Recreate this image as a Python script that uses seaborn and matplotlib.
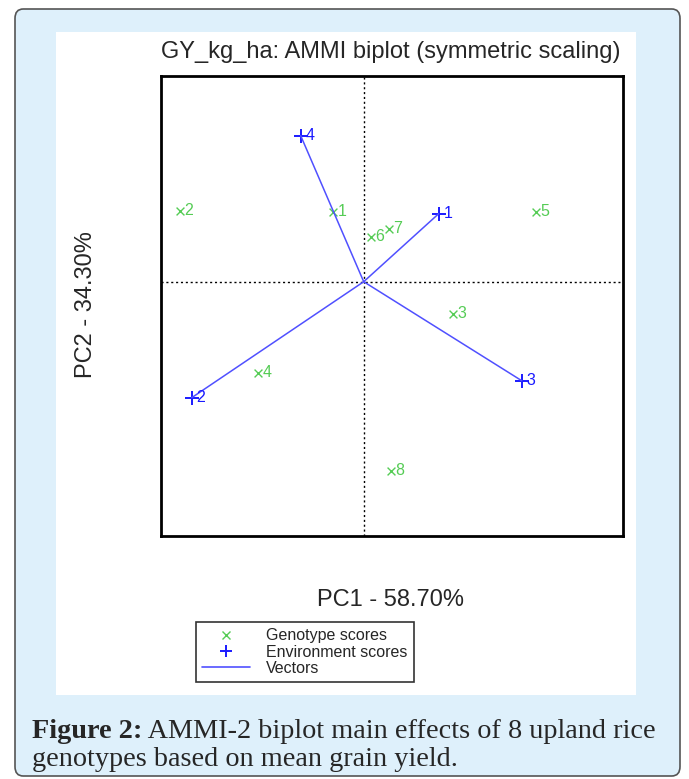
import matplotlib.pyplot as plt
import numpy as np
import pandas as pd
import seaborn as sns
from matplotlib.lines import Line2D
from matplotlib.patches import FancyBboxPatch, Rectangle

# AMMI scores
geno_labels = ["1", "2", "3", "4", "5", "6", "7", "8"]
geno_pc1 = [-3.1, -18.4, 8.9, -10.6, 17.2, 0.7, 2.5, 2.7]
geno_pc2 = [7.0, 7.1, -3.2, -9.1, 7.0, 4.5, 5.3, -18.9]

env_labels = ["1", "2", "3", "4"]
env_pc1 = [7.5, -17.2, 15.8, -6.3]
env_pc2 = [6.8, -11.6, -9.9, 14.6]

title = "GY_kg_ha: AMMI biplot (symmetric scaling)"
xlabel = "PC1 - 58.70%"
ylabel = "PC2 - 34.30%"
caption_bold = "Figure 2:"
caption_line1 = " AMMI-2 biplot main effects of 8 upland rice"
caption_line2 = "genotypes based on mean grain yield."

GREEN = "#55cc55"
BLUE = "#1a1aff"
VEC = "#5050ff"

sns.set_style("white")
plt.rcParams["font.family"] = ["Liberation Sans", "DejaVu Sans"]

geno_df = pd.DataFrame({"pc1": geno_pc1, "pc2": geno_pc2, "label": geno_labels})
env_df = pd.DataFrame({"pc1": env_pc1, "pc2": env_pc2, "label": env_labels})

fig = plt.figure(figsize=(6.89, 7.79), dpi=100)

# light blue frame and white panel, kept behind the axes
fig.patches.append(FancyBboxPatch((15 / 689, 1 - 776 / 779), 665 / 689, 767 / 779,
                                  boxstyle="round,pad=0,rounding_size=0.012",
                                  transform=fig.transFigure, facecolor="#def0fb",
                                  edgecolor="#555555", linewidth=1.2, zorder=-10))
fig.patches.append(Rectangle((56 / 689, 1 - 695 / 779), 580 / 689, 663 / 779,
                             transform=fig.transFigure, facecolor="white",
                             edgecolor="none", zorder=-9))

ax = fig.add_axes([161 / 689, 1 - 536 / 779, 461.7 / 689, 460 / 779])
ax.set_facecolor("white")

ax.axhline(0, color="black", linestyle=(0, (1.5, 2)), linewidth=1)
ax.axvline(0, color="black", linestyle=(0, (1.5, 2)), linewidth=1)

# environment vectors
for _, r in env_df.iterrows():
    ax.plot([0, r.pc1], [0, r.pc2], color=VEC, linewidth=1.1)

sns.scatterplot(data=geno_df, x="pc1", y="pc2", marker="x", color=GREEN, s=32,
                linewidth=1.0, ax=ax, legend=False)
sns.scatterplot(data=env_df, x="pc1", y="pc2", marker="+", color=BLUE, s=100,
                linewidth=1.4, ax=ax, legend=False)

for _, r in geno_df.iterrows():
    ax.annotate(r.label, (r.pc1, r.pc2), xytext=(3.5, 0.5), textcoords="offset points",
                color=GREEN, fontsize=11.5, va="center", ha="left")
for _, r in env_df.iterrows():
    ax.annotate(r.label, (r.pc1, r.pc2), xytext=(3.5, 0.5), textcoords="offset points",
                color=BLUE, fontsize=11.5, va="center", ha="left")

ax.set_xlim(-20.27, 25.9)
ax.set_ylim(-25.43, 20.57)
ax.set_xticks([])
ax.set_yticks([])
ax.set_xlabel("")
ax.set_ylabel("")
for sp in ax.spines.values():
    sp.set_visible(True)
    sp.set_color("black")
    sp.set_linewidth(2)

fig.text(391 / 689, 1 - 52 / 779, title, ha="center", va="center", fontsize=17)
fig.text(391 / 689, 1 - 600 / 779, xlabel, ha="center", va="center", fontsize=17)
fig.text(86 / 689, 1 - 305 / 779, ylabel, ha="center", va="center", fontsize=17,
         rotation=90)

handles = [
    Line2D([], [], color=GREEN, marker="x", linestyle="none", markersize=5.5, markeredgewidth=1.0),
    Line2D([], [], color=BLUE, marker="+", linestyle="none", markersize=9, markeredgewidth=1.4),
    Line2D([], [], color=VEC, linewidth=1.2),
]
leg = fig.legend(handles, ["Genotype scores", "Environment scores", "Vectors"],
                 loc="upper left", bbox_to_anchor=(196 / 689, 1 - 622 / 779),
                 fontsize=11.5, frameon=True, fancybox=False, edgecolor="black",
                 labelspacing=0.08, handlelength=3.0, handletextpad=1.0,
                 borderpad=0.4, borderaxespad=0)
leg.get_frame().set_linewidth(1.2)

# caption with bold lead-in
serif = ["Liberation Serif", "DejaVu Serif"]
t_bold = fig.text(32 / 689, 1 - 732 / 779, caption_bold, ha="left", va="center",
                  fontsize=20.3, fontweight="bold", family=serif)
fig.canvas.draw()
bb = t_bold.get_window_extent(renderer=fig.canvas.get_renderer())
fig.text(bb.x1 / fig.bbox.width, 1 - 732 / 779, caption_line1, ha="left", va="center",
         fontsize=20.3, family=serif)
fig.text(32 / 689, 1 - 759 / 779, caption_line2, ha="left", va="center",
         fontsize=20.3, family=serif)

fig.savefig("out.png", dpi=100)
